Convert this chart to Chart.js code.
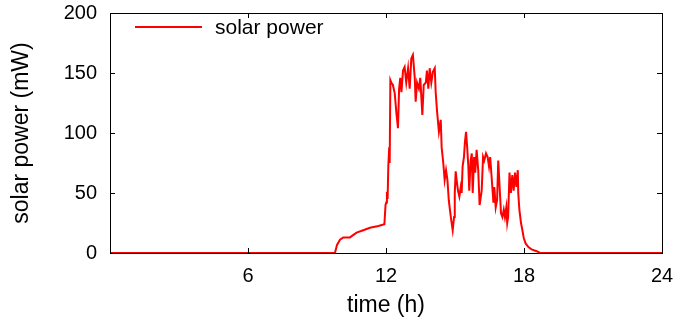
<!DOCTYPE html>
<html>
<head>
<meta charset="utf-8">
<script src="https://cdn.jsdelivr.net/npm/chart.js@4"></script>
<style>
html,body{margin:0;padding:0;background:#fff;}
#wrap{width:679px;height:325px;}
</style>
</head>
<body>
<div id="wrap"><canvas id="c" width="679" height="325"></canvas></div>
<script>
const seriesLabel = "solar power";
const timeHours = [0, 9.78, 9.87, 10.0, 10.14, 10.43, 10.72, 11.01, 11.30, 11.67, 11.93, 11.98, 12.01, 12.04, 12.07, 12.10, 12.14, 12.16, 12.19,
  12.23, 12.30, 12.38, 12.45, 12.52, 12.57, 12.62, 12.67, 12.74, 12.81, 12.88, 12.96, 13.03, 13.10, 13.17, 13.25, 13.29, 13.35, 13.43, 13.49,
  13.58, 13.64, 13.73, 13.78, 13.84, 13.90, 13.97, 14.04, 14.12, 14.16, 14.22, 14.30, 14.38, 14.42, 14.49, 14.55, 14.61, 14.67, 14.73, 14.78,
  14.84, 14.90, 14.96, 14.99, 15.03, 15.07, 15.13, 15.19, 15.25, 15.29, 15.33, 15.39, 15.43, 15.48, 15.53, 15.58, 15.62, 15.68, 15.73, 15.77,
  15.83, 15.88, 15.94, 16.01, 16.07, 16.16, 16.22, 16.27, 16.35, 16.42, 16.48, 16.53, 16.60, 16.67, 16.71, 16.77, 16.83, 16.88, 16.94, 17.00,
  17.06, 17.12, 17.17, 17.23, 17.27, 17.31, 17.37, 17.43, 17.49, 17.55, 17.61, 17.67, 17.73, 17.75, 17.80, 17.87, 17.93, 17.99, 18.07, 18.19,
  18.33, 18.55, 18.70, 24];
const powerMW = [0, 0, 6.7, 11, 13, 13, 17, 19, 21, 22.5, 24, 40, 42, 51, 45, 72, 88, 75, 144,
  142, 140, 133, 117, 104, 137, 146, 134, 152, 155, 142, 154, 137, 162, 165, 146, 126, 142, 137, 146,
  115, 140, 142, 152, 137, 154, 142, 151, 154, 134, 118, 101, 111, 88, 75, 61, 69, 61, 44, 36,
  27, 19, 30, 50, 68, 61, 52, 47, 55, 50, 72, 80, 92, 101, 88, 72, 52, 77, 83, 50,
  80, 67, 86, 69, 40, 52, 80, 77, 83, 80, 72, 80, 61, 42, 55, 38, 44, 77, 55, 33,
  30, 36, 30, 38, 25, 30, 67, 50, 65, 52, 67, 55, 69, 50, 36, 25, 19, 12.5, 8, 5,
  3, 1.5, 0, 0];
const xTickValues = [6, 12, 18, 24];
const yTickValues = [0, 50, 100, 150, 200];

const points = timeHours.map((t, i) => ({x: t, y: powerMW[i]}));
const FONT = "'Liberation Sans', Arial, Helvetica, sans-serif";

const framePlugin = {
  id: 'frame',
  afterDatasetsDraw(chart) {
    const {ctx, chartArea: a, scales} = chart;
    ctx.save();
    ctx.strokeStyle = '#000';
    ctx.lineWidth = 1;
    ctx.strokeRect(Math.round(a.left) + 0.5, Math.round(a.top) + 0.5, Math.round(a.right - a.left), Math.round(a.bottom - a.top));
    const L = 5;
    ctx.beginPath();
    xTickValues.forEach(v => {
      if (v <= 0 || v >= 24) return;
      const px = Math.round(scales.x.getPixelForValue(v)) + 0.5;
      ctx.moveTo(px, a.bottom); ctx.lineTo(px, a.bottom - L);
      ctx.moveTo(px, a.top); ctx.lineTo(px, a.top + L);
    });
    yTickValues.forEach(v => {
      if (v <= 0 || v >= 200) return;
      const py = Math.round(scales.y.getPixelForValue(v)) + 0.5;
      ctx.moveTo(a.left, py); ctx.lineTo(a.left + L, py);
      ctx.moveTo(a.right, py); ctx.lineTo(a.right - L, py);
    });
    ctx.stroke();
    // legend inside plot
    const ly = a.top + 14;
    ctx.strokeStyle = '#ff0000';
    ctx.lineWidth = 2;
    ctx.beginPath();
    ctx.moveTo(a.left + 25, ly); ctx.lineTo(a.left + 92, ly);
    ctx.stroke();
    ctx.fillStyle = '#000';
    ctx.font = '21px ' + FONT;
    ctx.textBaseline = 'middle';
    ctx.textAlign = 'left';
    ctx.fillText(chart.data.datasets[0].label, a.left + 105, ly + 1);
    ctx.restore();
  }
};

new Chart(document.getElementById('c'), {
  type: 'line',
  data: {
    datasets: [{
      label: seriesLabel,
      data: points,
      borderColor: '#ff0000',
      borderWidth: 2,
      pointRadius: 0,
      fill: false,
      tension: 0
    }]
  },
  options: {
    responsive: false,
    animation: false,
    devicePixelRatio: 1,
    layout: {padding: {top: 13, right: 17, left: 0, bottom: 0}},
    plugins: {legend: {display: false}, tooltip: {enabled: false}},
    scales: {
      x: {
        type: 'linear', min: 0, max: 24,
        afterBuildTicks: s => { s.ticks = xTickValues.map(v => ({value: v})); },
        afterFit: s => { s.height = 72; s.paddingLeft = 0; s.paddingRight = 0; },
        grid: {display: false, drawTicks: false},
        border: {display: true, color: '#000'},
        ticks: {color: '#000', font: {family: FONT, size: 20}, padding: 11, maxRotation: 0},
        title: {display: true, text: 'time (h)', color: '#000', font: {family: FONT, size: 23}, padding: {top: 4, bottom: 6}}
      },
      y: {
        type: 'linear', min: 0, max: 200,
        afterBuildTicks: s => { s.ticks = yTickValues.map(v => ({value: v})); },
        afterFit: s => { s.width = 110; s.paddingTop = 0; s.paddingBottom = 0; },
        grid: {display: false, drawTicks: false},
        border: {display: true, color: '#000'},
        ticks: {color: '#000', font: {family: FONT, size: 20}, padding: 13},
        title: {display: true, text: 'solar power (mW)', color: '#000', font: {family: FONT, size: 23}, padding: {top: 8, bottom: 0}}
      }
    }
  },
  plugins: [framePlugin]
});
</script>
</body>
</html>
